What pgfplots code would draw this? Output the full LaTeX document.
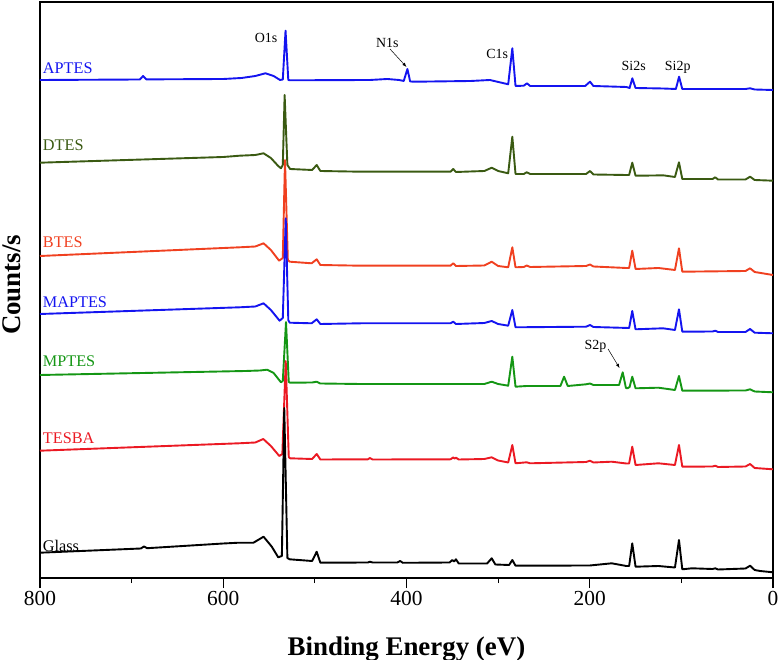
\documentclass[border=0pt]{standalone}
\usepackage{fontspec}
\setmainfont{Liberation Serif}
\usepackage{pgfplots}
\pgfplotsset{compat=1.18}
\definecolor{cblue}{RGB}{20,20,240}
\definecolor{cdtes}{RGB}{58,90,18}
\definecolor{cbtes}{RGB}{240,64,32}
\definecolor{cmptes}{RGB}{20,150,20}
\definecolor{ctesba}{RGB}{235,25,35}
\begin{document}
\begin{tikzpicture}
\begin{axis}[
  at={(0,0)}, anchor=south west,
  scale only axis, width=733bp, height=576bp,
  xmin=0, xmax=800, ymin=82, ymax=658, x dir=reverse,
  xtick={0,200,400,600,800}, minor xtick={100,300,500,700},
  xtick pos=bottom, ytick=\empty,
  tick align=outside,
  major tick length=10bp, minor tick length=5bp,
  axis line style={line width=1.6bp},
  every tick/.append style={line width=1.2bp, black},
  /pgf/number format/assume math mode=true,
  ticklabel style={font=\fontsize{21.5}{25}\selectfont},
  xlabel={Binding Energy (eV)}, ylabel={Counts/s},
  xlabel style={font=\bfseries\fontsize{27}{32}\selectfont, at={(axis description cs:0.5,-0.123)}, anchor=center},
  ylabel style={font=\bfseries\fontsize{27}{32}\selectfont, at={(axis description cs:-0.0385,0.509)}, anchor=center},
  clip=false,
  every axis plot/.append style={line width=1.9bp, line join=round},
]
% APTES
\addplot[cblue] coordinates {
(800,580) (691,580.5) (687.5,584) (684,580.6) (600,581) (580,582) (565,584) (554,586.7) (545,584) (538,580) (535,580.5)
(532,629.3) (529,580) (527,579.7) (440,580) (421,581) (408,580) (403,579) (399,591) (396,578.5) (390,578.3)
(330,579) (309,580) (295,577) (289,575.7) (284.5,611.7) (281,574) (272,574.3) (268.5,576.7) (265,574)
(205,574) (199.7,578.3) (196,574) (160,573) (156.5,572) (153.5,581.7) (150,572) (120,571.5) (106,571)
(102.5,583.3) (99,571) (30,571) (25,571.7) (20,570.5) (0,570)};
% DTES
\addplot[cdtes] coordinates {
(800,497.3) (600,503) (582,504.3) (565,505) (556,506.7) (548,502) (540,494) (537,491.7) (535,495)
(533,565) (530,495) (527,491) (503,490) (498,495) (494,489) (450,488.3) (352,488.3) (349,491) (346,488)
(315,489) (307,492.3) (300,489) (289,486.7) (284.5,523.3) (281,486) (272,486) (268.8,487.7) (265,486)
(204,486) (199.7,489) (196,485.5) (160,485) (157,485) (153.6,497.3) (150,484.3) (130,484.5) (120,484.7)
(107,483) (102.6,497.7) (99,481) (66,481) (63,482.7) (60,480.5) (30,480.5) (25,483.3) (20,480) (0,479.3)};
% BTES
\addplot[cbtes] coordinates {
(800,404) (582,412.7) (565,413.5) (556,416.7) (548,410) (539,399.3) (535,402) (532.6,500) (529.5,400)
(527.5,398.3) (503.5,396.7) (498,400.7) (494,395) (450,394.3) (352,394.3) (349,396.7) (346,394)
(315,394.5) (307,398.3) (300,394) (289,392.7) (284.5,412.7) (281,392.7) (272,393) (268.8,394.5) (265,393)
(204,394) (199.7,395.5) (196,393.5) (160,392) (157,392) (153.6,409.3) (150,391) (125,392) (107,390)
(102.6,411.7) (99,388.3) (30,389) (25,391.7) (20,388) (0,385)};
% MAPTES
\addplot[cblue] coordinates {
(800,346) (582,352.7) (565,353.5) (556,356.7) (548,350) (538.5,339.3) (535,342) (531.8,441.7) (529,340)
(527.5,337.3) (503.5,336.7) (498,340.7) (494,336) (450,336.7) (352,336.7) (349,338.3) (346,336)
(315,337) (307,339) (300,336) (289,334.3) (284.5,350) (281,332.7) (204,333.3) (199.7,335) (196,333)
(157,332) (153.6,349) (150,330.7) (120,331.7) (107,330) (102.6,350.7) (99,328.3) (66,328.5) (63,329.3)
(60,328) (30,328) (25,331) (20,327.3) (0,326.7)};
% MPTES
\addplot[cmptes] coordinates {
(800,285) (576,289) (560,289.5) (552,290.3) (545,287) (537,277.7) (535,279) (531.5,338) (528.5,278)
(527,277.3) (503,277.5) (498,278.3) (494,276.5) (450,276) (315,276) (307,278.3) (300,276) (289,274.3)
(284.5,303.3) (281,273.3) (268.8,274) (232,274) (228,283.3) (224,274) (204,275.7) (199.7,276.5) (196,275)
(168,275) (164,287.7) (160.5,272) (158.9,271.7) (156.5,273) (153.6,283.3) (150,271.7) (125,272.3)
(107,270) (102.6,284) (99,269.3) (30,269.5) (25,270.7) (20,268.5) (0,267.7)};
% TESBA
\addplot[ctesba] coordinates {
(800,209.3) (583,216.7) (565,217.5) (556.3,221) (548,214) (538.8,204) (535.5,206) (531.8,299) (528.5,203)
(527,201.7) (503,201) (498,206) (494,200.5) (442,200.7) (440,202) (437,200.5) (352,200.7) (349,202.5)
(347.5,201.5) (346,202.3) (343,200.5) (315,201) (307,202.7) (300,199.5) (289,197.5) (284.5,215) (281,196.7)
(268.8,197.7) (265,196.7) (204,198) (199.7,199.3) (196,197.5) (176,198.3) (160,196.5) (157,196.5)
(153.6,213.3) (150,195) (125,196.7) (107,195) (102.6,215) (99,193.3) (66,193.5) (63,194.3) (60,193)
(30,193.5) (25,196) (20,192) (0,190.7)};
% Glass
\addplot[black] coordinates {
(800,107.3) (690,111.5) (686.5,113.5) (683,111.8) (600,116.5) (583,117.3) (567,117.3) (556,123.3)
(547,113.3) (540,102.7) (536,104) (533.4,252) (530,102) (527.5,100.7) (503,99) (498,108.3) (494,97.3)
(442,97.5) (440,98.3) (437,97.5) (410,97.5) (407,99) (404,97.2) (353,97.5) (350,100) (348,98.5)
(346,100.7) (343,96.5) (312,96.5) (307,101.7) (303,95.5) (288,95) (284.5,100) (281,94.3) (200,94.5)
(176,96.7) (160,94) (157,94) (153.6,116.7) (150,93.3) (125,94) (107,92.5) (102.6,120) (99,90.7)
(88.4,91.7) (66,91) (63,91.7) (60,90.5) (30,91.5) (25,94.3) (20,90) (14,89) (0,87.7)};
% series labels
\begin{scope}[every node/.style={font=\fontsize{16.3}{19}\selectfont, anchor=base west, inner sep=0pt}]
\node[text=cblue] at (axis cs:797,586) {APTES};
\node[text=cdtes] at (axis cs:797,509.3) {DTES};
\node[text=cbtes] at (axis cs:797,412.7) {BTES};
\node[text=cblue] at (axis cs:797,352.7) {MAPTES};
\node[text=cmptes] at (axis cs:797,293.3) {MPTES};
\node[text=ctesba] at (axis cs:797,216) {TESBA};
\node[text=black] at (axis cs:797,108.3) {Glass};
\end{scope}
% peak labels
\begin{scope}[every node/.style={font=\fontsize{14}{17}\selectfont, anchor=base, inner sep=0pt}]
\node at (axis cs:553.3,617.3) {O1s};
\node at (axis cs:421,612.7) {N1s};
\node at (axis cs:301,601.7) {C1s};
\node at (axis cs:152,589.3) {Si2s};
\node at (axis cs:104,589.5) {Si2p};
\node at (axis cs:193.7,310) {S2p};
\end{scope}
\draw[-latex, line width=0.5bp] (axis cs:418,611) -- (axis cs:400,593);
\draw[-latex, line width=0.5bp] (axis cs:180,311) -- (axis cs:167.5,292);
\end{axis}
\pgfresetboundingbox
\path[use as bounding box] (-40bp,-82bp) rectangle (739bp,578bp);
\end{tikzpicture}
\end{document}
